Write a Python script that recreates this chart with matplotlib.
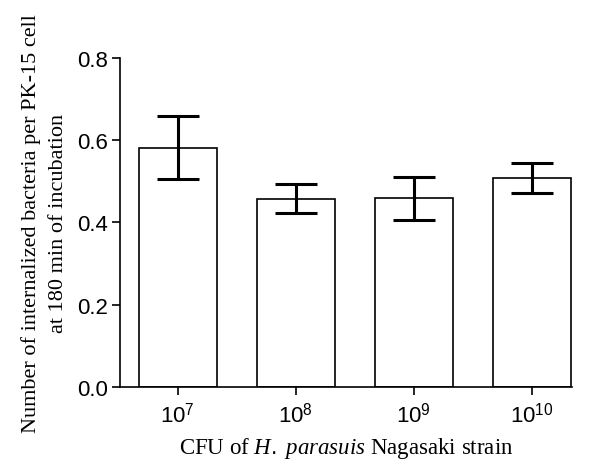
import matplotlib
matplotlib.use("Agg")
import matplotlib.pyplot as plt

# data
doses = ["$10^{7}$", "$10^{8}$", "$10^{9}$", "$10^{10}$"]
means = [0.582, 0.458, 0.459, 0.508]
errs = [0.077, 0.036, 0.052, 0.037]

plt.rcParams["font.family"] = ["Liberation Sans", "DejaVu Sans"]
plt.rcParams["mathtext.fontset"] = "custom"
plt.rcParams["mathtext.rm"] = "Liberation Sans"
plt.rcParams["mathtext.it"] = "Liberation Serif:italic"

fig = plt.figure(figsize=(6, 4.64), dpi=100)
ax = fig.add_axes([0.2, 0.164, 0.753, 0.709])

x = list(range(len(doses)))
ax.bar(x, means, width=0.66, color="white", edgecolor="black", linewidth=1.2, zorder=2)
ax.errorbar(x, means, yerr=errs, fmt="none", ecolor="black", elinewidth=2.2,
            capsize=15, capthick=2.2, zorder=3)

ax.set_xlim(-0.49, 3.34)
ax.set_ylim(0, 0.8)
ax.set_yticks([0.0, 0.2, 0.4, 0.6, 0.8])
ax.set_yticklabels(["0.0", "0.2", "0.4", "0.6", "0.8"])
ax.set_xticks(x)
ax.set_xticklabels(doses)
ax.tick_params(axis="both", labelsize=16, length=6, width=1.2, direction="out", pad=3)
ax.tick_params(axis="x", pad=5)
ax.spines["top"].set_visible(False)
ax.spines["right"].set_visible(False)
ax.spines["left"].set_linewidth(1.2)
ax.spines["bottom"].set_linewidth(1.2)

ax.set_xlabel("CFU of $\\it{H.\\ parasuis}$ Nagasaki strain", fontsize=16.5,
              family="Liberation Serif", labelpad=6)
ax.set_ylabel("Number of internalized bacteria per PK-15 cell\nat 180 min of incubation",
              fontsize=16, family="Liberation Serif", linespacing=1.6, labelpad=6)

fig.savefig("out.png", dpi=100)
